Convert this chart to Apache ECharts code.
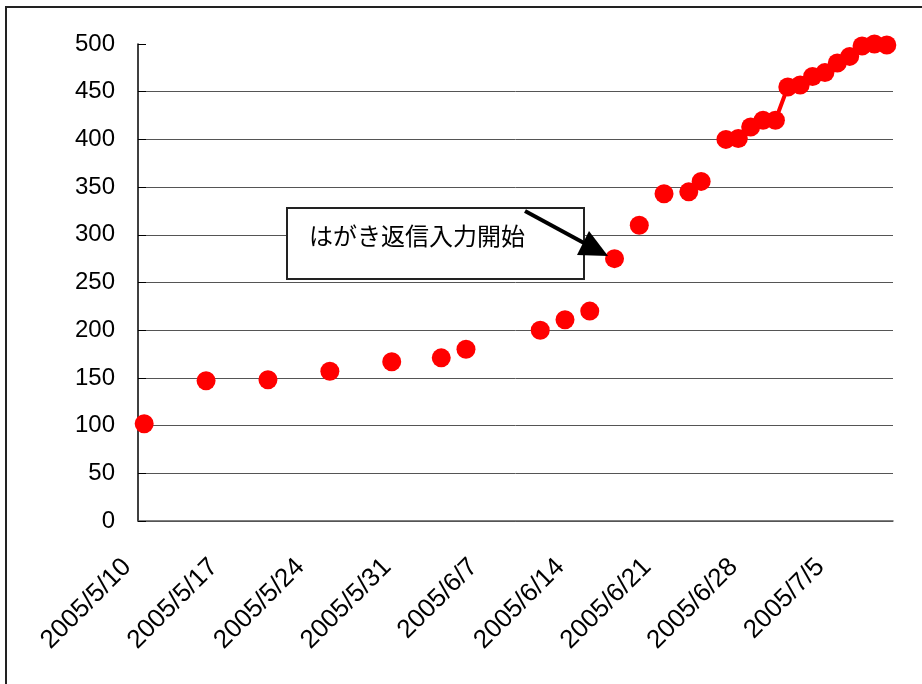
<!DOCTYPE html>
<html>
<head>
<meta charset="utf-8">
<script src="https://cdn.jsdelivr.net/npm/echarts@6/dist/echarts.min.js"></script>
<style>
html,body{margin:0;padding:0;background:#fff;}
#chart{width:922px;height:684px;}
</style>
</head>
<body>
<div id="chart"></div>
<script>
// Observed dates and cumulative counts
const obsDates = ['2005/5/10','2005/5/15','2005/5/20','2005/5/25','2005/5/30','2005/6/3','2005/6/5',
  '2005/6/11','2005/6/13','2005/6/15','2005/6/17','2005/6/19','2005/6/21','2005/6/23','2005/6/24',
  '2005/6/26','2005/6/27','2005/6/28','2005/6/29','2005/6/30','2005/7/1','2005/7/2','2005/7/3',
  '2005/7/4','2005/7/5','2005/7/6','2005/7/7','2005/7/8','2005/7/9'];
const obsValues = [102,147,148,157,167,171,180,
  200,211,220,275,310,343,345,356,
  400,401,413,420,420,455,457,466,
  470,480,487,498,500,499];
const axisStart = '2005/5/10';
const axisEnd = '2005/7/9';
const xTickLabels = ['2005/5/10','2005/5/17','2005/5/24','2005/5/31','2005/6/7','2005/6/14','2005/6/21','2005/6/28','2005/7/5'];
const yTicks = [0,50,100,150,200,250,300,350,400,450,500];
const annotationText = 'はがき返信入力開始';

// Build daily category list (date axis) and series with gaps for missing days
function parseD(s){const p=s.split('/').map(Number);return new Date(p[0],p[1]-1,p[2]);}
function fmtD(d){return d.getFullYear()+'/'+(d.getMonth()+1)+'/'+d.getDate();}
const categories = [];
for (let d = parseD(axisStart); d <= parseD(axisEnd); d = new Date(d.getFullYear(), d.getMonth(), d.getDate()+1)) {
  categories.push(fmtD(d));
}
const valueMap = {};
obsDates.forEach((d,i)=>{valueMap[d]=obsValues[i];});
const seriesData = categories.map(c => (c in valueMap) ? valueMap[c] : null);

const chart = echarts.init(document.getElementById('chart'));
const axisFont = "'Liberation Sans', Arial, sans-serif";
chart.setOption({
  animation: false,
  backgroundColor: '#ffffff',
  grid: {left: 138, right: 29, top: 44, bottom: 163, containLabel: false, outerBoundsMode: 'none'},
  xAxis: {
    type: 'category',
    data: categories,
    boundaryGap: true,
    axisLine: {lineStyle: {color: '#555', width: 1.5}},
    axisTick: {inside: true, length: 8, lineStyle: {color: '#555'},
      interval: function(idx, val){ return xTickLabels.indexOf(val) >= 0; }},
    axisLabel: {
      interval: 0,
      rotate: 45,
      margin: 25,
      padding: [0, 24, 0, 0],
      color: '#000',
      fontFamily: axisFont,
      fontSize: 26,
      formatter: function(v){ return xTickLabels.indexOf(v) >= 0 ? v : ''; }
    },
    splitLine: {show: false}
  },
  yAxis: {
    type: 'value',
    min: yTicks[0],
    max: yTicks[yTicks.length-1],
    interval: yTicks[1]-yTicks[0],
    axisLine: {show: true, lineStyle: {color: '#000', width: 1.5}},
    axisTick: {show: true, inside: true, length: 8, lineStyle: {color: '#000'}},
    axisLabel: {color: '#000', fontFamily: axisFont, fontSize: 24, margin: 23},
    splitLine: {show: true, showMaxLine: false, lineStyle: {color: '#555', width: 1}}
  },
  series: [{
    type: 'line',
    data: seriesData,
    connectNulls: false,
    symbol: 'circle',
    symbolSize: 19,
    showAllSymbol: true,
    itemStyle: {color: '#ff0000'},
    lineStyle: {color: '#ff0000', width: 4}
  }],
  graphic: [
    {type: 'rect', shape: {x: 6, y: 7, width: 1000, height: 1000}, style: {fill: 'none', stroke: '#222', lineWidth: 2}, z: 0},
    {type: 'rect', shape: {x: 287, y: 208, width: 297, height: 71}, style: {fill: '#fff', stroke: '#222', lineWidth: 2}, z: 10},
    {type: 'text', x: 309, y: 236, style: {text: annotationText, fill: '#000', font: "24px 'Noto Sans CJK JP', sans-serif", verticalAlign: 'middle'}, z: 11},
    {type: 'line', shape: {x1: 525, y1: 211, x2: 584, y2: 243}, style: {stroke: '#000', lineWidth: 4}, z: 12},
    {type: 'polygon', shape: {points: [[608,256],[589,231],[577,255]]}, style: {fill: '#000'}, z: 12}
  ]
});
</script>
</body>
</html>
